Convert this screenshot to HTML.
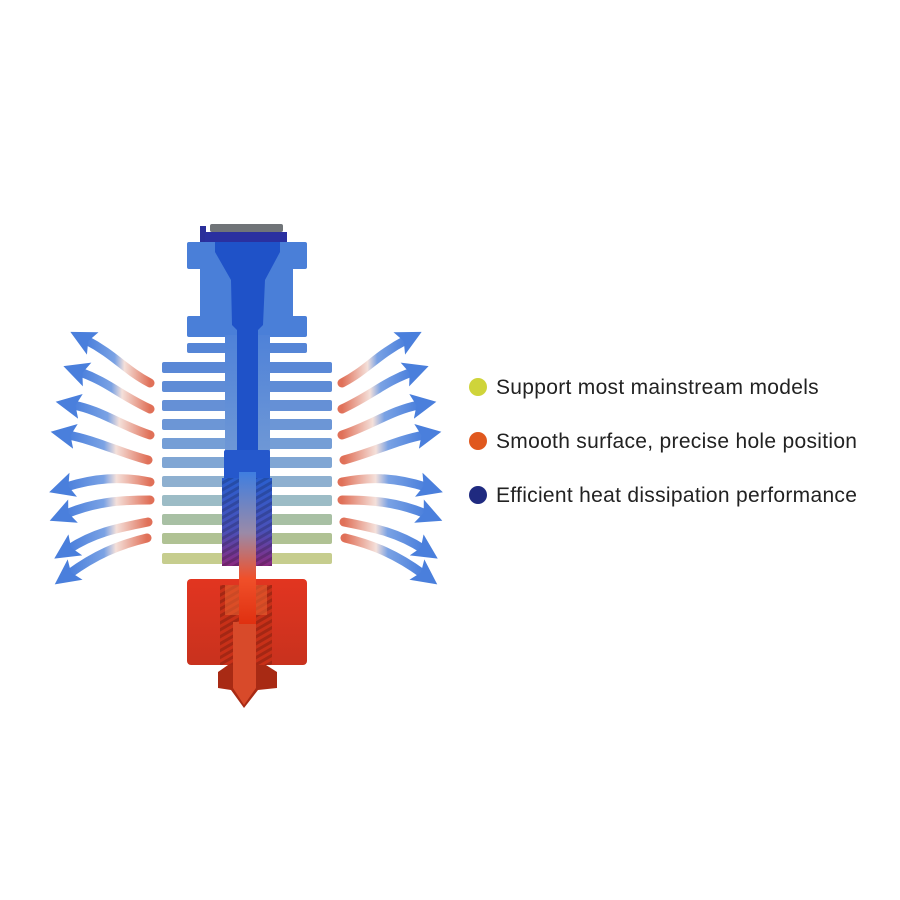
<!DOCTYPE html>
<html><head><meta charset="utf-8"><style>
html,body{margin:0;padding:0;background:#fff;width:900px;height:900px;overflow:hidden}
</style></head><body>
<svg width="900" height="900" viewBox="0 0 900 900" xmlns="http://www.w3.org/2000/svg">
<defs>
<linearGradient id="ag" x1="1" y1="0" x2="0" y2="0">
<stop offset="0" stop-color="#e07058"/><stop offset="0.4" stop-color="#f4e0da"/><stop offset="0.55" stop-color="#7aa2e4"/><stop offset="1" stop-color="#4a7fdc"/>
</linearGradient>
<marker id="ah" viewBox="0 0 10 10" markerWidth="2.8" markerHeight="3" refX="3" refY="5" orient="auto">
<path d="M0,0 L10,5 L0,10 L2,5 Z" fill="#4a7fdc"/>
</marker>
<linearGradient id="core" x1="0" y1="0" x2="0" y2="1">
<stop offset="0" stop-color="#4f82d8"/><stop offset="1" stop-color="#6f98d6"/>
</linearGradient>
<linearGradient id="bore" x1="0" y1="0" x2="0" y2="1">
<stop offset="0" stop-color="#3f7ee0"/><stop offset="0.4" stop-color="#9a8aa8"/><stop offset="0.7" stop-color="#f0502a"/><stop offset="1" stop-color="#e03010"/>
</linearGradient>
<linearGradient id="thread" x1="0" y1="0" x2="0" y2="1">
<stop offset="0" stop-color="#2a5fcf"/><stop offset="0.6" stop-color="#4a50b8"/><stop offset="1" stop-color="#8a2a80"/>
</linearGradient>
<linearGradient id="heat" x1="0" y1="0" x2="0" y2="1">
<stop offset="0" stop-color="#e23520"/><stop offset="1" stop-color="#c8321e"/>
</linearGradient>
<pattern id="thr" width="8" height="6" patternUnits="userSpaceOnUse" patternTransform="rotate(-30)">
<rect width="8" height="3" fill="#000" opacity="0.18"/>
</pattern>
</defs>

<g id="arrowsL" fill="none" stroke="url(#ag)" stroke-width="9" stroke-linecap="round" marker-end="url(#ah)">
<path d="M150,383 C125,370 115,355 86,340"/>
<path d="M150,409 C120,395 108,382 80,372"/>
<path d="M150,435 C120,425 100,410 73,405"/>
<path d="M148,460 C118,452 95,440 68,435"/>
<path d="M150,482 C120,476 95,478 66,487"/>
<path d="M150,500 C120,500 95,502 66,514"/>
<path d="M148,522 C118,528 95,532 69,549"/>
<path d="M147,538 C118,545 95,555 69,574"/>
</g>
<use href="#arrowsL" transform="translate(492,0) scale(-1,1)"/>

<g>
<rect x="162" y="362" width="170" height="11" rx="2" fill="#5a88d6"/>
<rect x="162" y="381" width="170" height="11" rx="2" fill="#5f8cd6"/>
<rect x="162" y="400" width="170" height="11" rx="2" fill="#6590d6"/>
<rect x="162" y="419" width="170" height="11" rx="2" fill="#6c96d6"/>
<rect x="162" y="438" width="170" height="11" rx="2" fill="#759ed6"/>
<rect x="162" y="457" width="170" height="11" rx="2" fill="#80a6d4"/>
<rect x="162" y="476" width="170" height="11" rx="2" fill="#8eb0d0"/>
<rect x="162" y="495" width="170" height="11" rx="2" fill="#9cbcc6"/>
<rect x="162" y="514" width="170" height="11" rx="2" fill="#a8c0a4"/>
<rect x="162" y="533" width="170" height="11" rx="2" fill="#b0c294"/>
<rect x="162" y="553" width="170" height="11" rx="2" fill="#c6cd8e"/>
</g>
<rect x="187" y="242" width="120" height="27" rx="2" fill="#4a7fd8"/>
<rect x="200" y="266" width="93" height="54" fill="#4a7fd8"/>
<rect x="187" y="316" width="120" height="21" rx="2" fill="#4a7fd8"/>
<rect x="187" y="343" width="120" height="10" rx="2" fill="#5585d6"/>
<rect x="225" y="335" width="45" height="120" fill="url(#core)"/>
<rect x="200" y="226" width="6" height="16" fill="#2a2f9a"/>
<rect x="205" y="232" width="82" height="10" fill="#2a30a0"/>
<rect x="210" y="224" width="73" height="8" rx="2" fill="#707478"/>
<path d="M215,242 L280,242 L280,252 L265,280 L263,325 L258,330 L258,455 L237,455 L237,330 L232,325 L231,280 L215,252 Z" fill="#1f52c8"/>
<rect x="224" y="450" width="46" height="30" rx="2" fill="#2558cc"/>
<rect x="222" y="478" width="50" height="88" fill="url(#thread)"/>
<rect x="222" y="478" width="50" height="88" fill="url(#thr)"/>
<rect x="187" y="579" width="120" height="86" rx="4" fill="url(#heat)"/>
<rect x="220" y="585" width="52" height="80" fill="#c83018"/>
<rect x="220" y="585" width="52" height="80" fill="url(#thr)"/>
<rect x="225" y="585" width="42" height="30" fill="#e86030" opacity="0.6"/>
<path d="M218,672 L228,665 L266,665 L277,672 L277,688 L258,690 L244,708 L231,690 L218,688 Z" fill="#a82a14"/>
<path d="M233,622 L256,622 L256,688 L244,705 L233,688 Z" fill="#d84a2a"/>
<rect x="239" y="472" width="17" height="152" fill="url(#bore)"/>

<g font-family="Liberation Sans, sans-serif" font-size="21" fill="#222" letter-spacing="0.3">
<circle cx="478" cy="387" r="9" fill="#cfd43a"/>
<text x="496" y="394">Support most mainstream models</text>
<circle cx="478" cy="441" r="9" fill="#e0581e"/>
<text x="496" y="448">Smooth surface, precise hole position</text>
<circle cx="478" cy="495" r="9" fill="#1f2a80"/>
<text x="496" y="502">Efficient heat dissipation performance</text>
</g>
</svg>
</body></html>
